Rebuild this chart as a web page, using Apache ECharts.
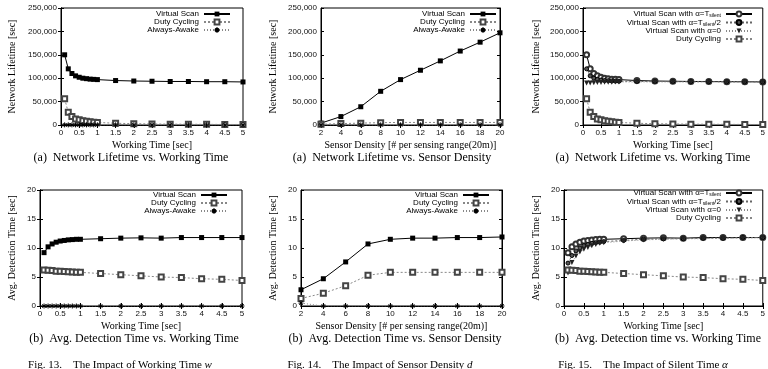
<!DOCTYPE html>
<html>
<head>
<meta charset="utf-8">
<script src="https://cdn.jsdelivr.net/npm/echarts@6/dist/echarts.min.js"></script>
<style>
  html, body { margin: 0; padding: 0; background: #fff; }
  #main { width: 768px; height: 369px; }
</style>
</head>
<body>
<div id="main"></div>
<script>
// x values
var workTime = [0.1, 0.2, 0.3, 0.4, 0.5, 0.6, 0.7, 0.8, 0.9, 1.0, 1.5, 2, 2.5, 3, 3.5, 4, 4.5, 5];
var density = [2, 4, 6, 8, 10, 12, 14, 16, 18, 20];

// Fig 13 (a) network lifetime vs working time
var lifeVS_w = [150000, 120000, 110000, 105000, 102000, 100000, 99000, 98000, 97500, 97000, 95000, 94000, 93500, 93000, 93000, 92500, 92500, 92000];
var lifeDC_w = [56000, 27000, 18000, 13000, 11000, 9000, 8000, 7000, 6000, 5500, 3700, 2800, 2200, 1800, 1600, 1400, 1200, 1100];
var lifeAA_w = [300, 300, 300, 300, 300, 300, 300, 300, 300, 300, 300, 300, 300, 300, 300, 300, 300, 300];

// Fig 14 (a) network lifetime vs sensor density
var lifeVS_d = [4000, 18000, 39000, 72000, 97000, 117000, 137000, 158000, 177000, 197000];
var lifeDC_d = [1500, 3000, 4000, 5000, 5500, 5500, 5500, 5500, 5500, 5500];
var lifeAA_d = [500, 300, 300, 300, 300, 300, 300, 300, 300, 300];

// Fig 15 (a) silent time
var lifeA1 = [150000, 120000, 110000, 105000, 102000, 100000, 99000, 98000, 97500, 97000, 95000, 94000, 93500, 93000, 93000, 92500, 92500, 92000];
var lifeA2 = [120000, 105000, 100000, 97500, 96000, 95000, 94500, 94000, 93800, 93500, 93000, 93000, 92800, 92500, 92500, 92300, 92200, 92000];
var lifeA0 = [90000, 90000, 90500, 91000, 91000, 91500, 91500, 91500, 92000, 92000, 92000, 92000, 92000, 92000, 92000, 92000, 92000, 92000];
var lifeDC_a = [56000, 27000, 18000, 13000, 11000, 9000, 8000, 7000, 6000, 5500, 3700, 2800, 2200, 1800, 1600, 1400, 1200, 1100];

// Fig 13 (b) detection time vs working time
var detVS_w = [9.2, 10.2, 10.7, 11.0, 11.2, 11.3, 11.4, 11.45, 11.5, 11.5, 11.6, 11.7, 11.75, 11.7, 11.8, 11.8, 11.8, 11.8];
var detDC_w = [6.2, 6.15, 6.1, 6.0, 6.0, 5.95, 5.9, 5.85, 5.8, 5.8, 5.6, 5.4, 5.2, 5.0, 4.9, 4.7, 4.6, 4.4];
var detAA_w = [0, 0, 0, 0, 0, 0, 0, 0, 0, 0, 0, 0, 0, 0, 0, 0, 0, 0];

// Fig 14 (b) detection time vs sensor density
var detVS_d = [2.8, 4.7, 7.6, 10.7, 11.5, 11.7, 11.7, 11.8, 11.8, 11.9];
var detDC_d = [1.3, 2.2, 3.5, 5.3, 5.8, 5.8, 5.8, 5.8, 5.8, 5.8];
var detAA_d = [0.5, 0, 0, 0, 0, 0, 0, 0, 0, 0];

// Fig 15 (b)
var detA1 = [9.2, 10.2, 10.7, 11.0, 11.2, 11.3, 11.4, 11.45, 11.5, 11.5, 11.6, 11.7, 11.75, 11.7, 11.8, 11.8, 11.8, 11.8];
var detA2 = [7.4, 8.7, 9.5, 10.0, 10.4, 10.6, 10.8, 10.9, 11.0, 11.1, 11.3, 11.5, 11.6, 11.6, 11.7, 11.7, 11.8, 11.8];
var detA0 = [5.7, 7.5, 8.6, 9.3, 9.8, 10.1, 10.4, 10.6, 10.8, 10.9, 11.2, 11.4, 11.5, 11.6, 11.6, 11.7, 11.7, 11.8];
var detDC_a = [6.2, 6.15, 6.1, 6.0, 6.0, 5.95, 5.9, 5.85, 5.8, 5.8, 5.6, 5.4, 5.2, 5.0, 4.9, 4.7, 4.6, 4.4];

var SANS = "'Liberation Sans', Arial, sans-serif";
var SERIF = "'Liberation Serif', 'Times New Roman', serif";
var ASTER = 'path://M5 0L5 10M0 5L10 5M1.5 1.5L8.5 8.5M8.5 1.5L1.5 8.5';

var myChart = echarts.init(document.getElementById('main'));

var grids = [
  { left: 61, top: 8, width: 182, height: 117 },
  { left: 321, top: 8, width: 179, height: 117 },
  { left: 583, top: 8, width: 181, height: 117 },
  { left: 40, top: 190, width: 202, height: 116 },
  { left: 301, top: 190, width: 201, height: 116 },
  { left: 564, top: 190, width: 199, height: 116 }
];
grids.forEach(function(g) {
  g.show = true;
  g.borderColor = '#000';
  g.borderWidth = 1;
  g.backgroundColor = 'transparent';
});

var xAxes = [];
var yAxes = [];

function addAxes(i, xmin, xmax, xint, ymax, yint, xname, yname, ygap) {
  var tick = { inside: true, length: 3, lineStyle: { color: '#000' } };
  xAxes.push({
    type: 'value', gridIndex: i, min: xmin, max: xmax, interval: xint, position: 'bottom',
    name: xname, nameLocation: 'middle', nameGap: 15,
    nameTextStyle: { fontFamily: SERIF, fontSize: 10, color: '#000' },
    axisLine: { lineStyle: { color: '#000' } }, axisTick: tick, splitLine: { show: false },
    axisLabel: { fontFamily: SANS, fontSize: 8, color: '#111', margin: 4 }
  });
  xAxes.push({
    type: 'value', gridIndex: i, min: xmin, max: xmax, interval: xint, position: 'top',
    axisLine: { lineStyle: { color: '#000' } }, axisTick: tick, splitLine: { show: false },
    axisLabel: { show: false }
  });
  yAxes.push({
    type: 'value', gridIndex: i, min: 0, max: ymax, interval: yint, position: 'left',
    name: yname, nameLocation: 'middle', nameGap: ygap,
    nameTextStyle: { fontFamily: SERIF, fontSize: 10, color: '#000' },
    axisLine: { show: true, lineStyle: { color: '#000' } }, axisTick: { show: true, inside: true, length: 3, lineStyle: { color: '#000' } },
    splitLine: { show: false },
    axisLabel: { fontFamily: SANS, fontSize: 8, color: '#111', margin: 4 }
  });
  yAxes.push({
    type: 'value', gridIndex: i, min: 0, max: ymax, interval: yint, position: 'right',
    axisLine: { show: true, lineStyle: { color: '#000' } }, axisTick: { show: true, inside: true, length: 3, lineStyle: { color: '#000' } },
    splitLine: { show: false }, axisLabel: { show: false }
  });
}

addAxes(0, 0, 5, 0.5, 250000, 50000, 'Working Time [sec]', 'Network Lifetime [sec]', 44);
addAxes(1, 2, 20, 2, 250000, 50000, 'Sensor Density [# per sensing range(20m)]', 'Network Lifetime [sec]', 43);
addAxes(2, 0, 5, 0.5, 250000, 50000, 'Working Time [sec]', 'Network Lifetime [sec]', 42);
addAxes(3, 0, 5, 0.5, 20, 5, 'Working Time [sec]', 'Avg. Detection Time [sec]', 23);
addAxes(4, 2, 20, 2, 20, 5, 'Sensor Density [# per sensing range(20m)]', 'Avg. Detection Time [sec]', 23);
addAxes(5, 0, 5, 0.5, 20, 5, 'Working Time [sec]', 'Avg. Detection Time [sec]', 23);

function pairs(xs, ys) {
  return xs.map(function(x, k) { return [x, ys[k]]; });
}

var styles = {
  vs: { symbol: 'rect', symbolSize: 5, itemStyle: { color: '#000' }, lineStyle: { color: '#000', width: 1 } },
  dc: { symbol: 'emptyRect', symbolSize: 5, itemStyle: { color: '#444', borderWidth: 1 }, lineStyle: { color: '#888', width: 1, type: [2, 2] } },
  aa: { symbol: ASTER, symbolSize: 5, itemStyle: { color: '#000', borderColor: '#000', borderWidth: 1 }, lineStyle: { color: '#888', width: 1, type: [1, 2] } },
  a1: { symbol: 'emptyCircle', symbolSize: 5, itemStyle: { color: '#333', borderWidth: 1 }, lineStyle: { color: '#000', width: 1 } },
  a2: { symbol: 'circle', symbolSize: 4, itemStyle: { color: '#555', borderColor: '#000', borderWidth: 1 }, lineStyle: { color: '#666', width: 1, type: [2, 2] } },
  a0: { symbol: 'triangle', symbolRotate: 180, symbolSize: 5, itemStyle: { color: '#222' }, lineStyle: { color: '#888', width: 1, type: [1, 2] } }
};

var series = [];
function addSeries(i, name, st, xs, ys) {
  series.push(Object.assign({
    type: 'line', name: name, xAxisIndex: 2 * i, yAxisIndex: 2 * i,
    data: pairs(xs, ys), showSymbol: true, animation: false, silent: true
  }, styles[st]));
}

addSeries(0, 'Virtual Scan', 'vs', workTime, lifeVS_w);
addSeries(0, 'Duty Cycling', 'dc', workTime, lifeDC_w);
addSeries(0, 'Always-Awake', 'aa', workTime, lifeAA_w);
addSeries(1, 'Virtual Scan', 'vs', density, lifeVS_d);
addSeries(1, 'Duty Cycling', 'dc', density, lifeDC_d);
addSeries(1, 'Always-Awake', 'aa', density, lifeAA_d);
addSeries(2, 'Virtual Scan with α=T_silent', 'a1', workTime, lifeA1);
addSeries(2, 'Virtual Scan with α=T_silent/2', 'a2', workTime, lifeA2);
addSeries(2, 'Virtual Scan with α=0', 'a0', workTime, lifeA0);
addSeries(2, 'Duty Cycling', 'dc', workTime, lifeDC_a);
addSeries(3, 'Virtual Scan', 'vs', workTime, detVS_w);
addSeries(3, 'Duty Cycling', 'dc', workTime, detDC_w);
addSeries(3, 'Always-Awake', 'aa', workTime, detAA_w);
addSeries(4, 'Virtual Scan', 'vs', density, detVS_d);
addSeries(4, 'Duty Cycling', 'dc', density, detDC_d);
addSeries(4, 'Always-Awake', 'aa', density, detAA_d);
addSeries(5, 'Virtual Scan with α=T_silent', 'a1', workTime, detA1);
addSeries(5, 'Virtual Scan with α=T_silent/2', 'a2', workTime, detA2);
addSeries(5, 'Virtual Scan with α=0', 'a0', workTime, detA0);
addSeries(5, 'Duty Cycling', 'dc', workTime, detDC_a);

var threeNames = ['Virtual Scan', 'Duty Cycling', 'Always-Awake'];
var alphaNames = ['Virtual Scan with α=T_silent', 'Virtual Scan with α=T_silent/2', 'Virtual Scan with α=0', 'Duty Cycling'];

function legendAt(names, rightX, topY) {
  return {
    data: names, orient: 'vertical', align: 'right', right: 768 - rightX, top: topY,
    itemWidth: 26, itemHeight: 6, itemGap: 0, padding: 0, selectedMode: false,
    formatter: function(n) {
      return n.replace('T_silent', 'T{sub|silent}');
    },
    textStyle: {
      fontFamily: SANS, fontSize: 8, color: '#000', lineHeight: 8,
      rich: { sub: { fontFamily: SANS, fontSize: 5, padding: [4, 0, 0, 0], color: '#000' } }
    }
  };
}

var legends = [
  legendAt(threeNames, 231, 10),
  legendAt(threeNames, 497, 10),
  legendAt(alphaNames, 753, 10),
  legendAt(threeNames, 228, 191),
  legendAt(threeNames, 490, 191),
  legendAt(alphaNames, 753, 189)
];

function caption(cx, cy, txt, size) {
  return {
    type: 'text', x: cx, y: cy, silent: true,
    style: {
      text: txt, fontFamily: SERIF, fontSize: size, fill: '#000',
      align: 'center', verticalAlign: 'middle',
      rich: { i: { fontStyle: 'italic', fontFamily: SERIF, fontSize: size } }
    }
  };
}

var option = {
  backgroundColor: '#fff',
  animation: false,
  grid: grids,
  xAxis: xAxes,
  yAxis: yAxes,
  legend: legends,
  series: series,
  graphic: [
    caption(131, 158, '(a)  Network Lifetime vs. Working Time', 12),
    caption(392, 158, '(a)  Network Lifetime vs. Sensor Density', 12),
    caption(653, 158, '(a)  Network Lifetime vs. Working Time', 12),
    caption(134, 339, '(b)  Avg. Detection Time vs. Working Time', 12),
    caption(395, 339, '(b)  Avg. Detection Time vs. Sensor Density', 12),
    caption(658, 339, '(b)  Avg. Detection time vs. Working Time', 12),
    caption(120, 365, 'Fig. 13.    The Impact of Working Time {i|w}', 11),
    caption(380, 365, 'Fig. 14.    The Impact of Sensor Density {i|d}', 11),
    caption(643, 365, 'Fig. 15.    The Impact of Silent Time {i|α}', 11)
  ]
};

myChart.setOption(option);
</script>
</body>
</html>
